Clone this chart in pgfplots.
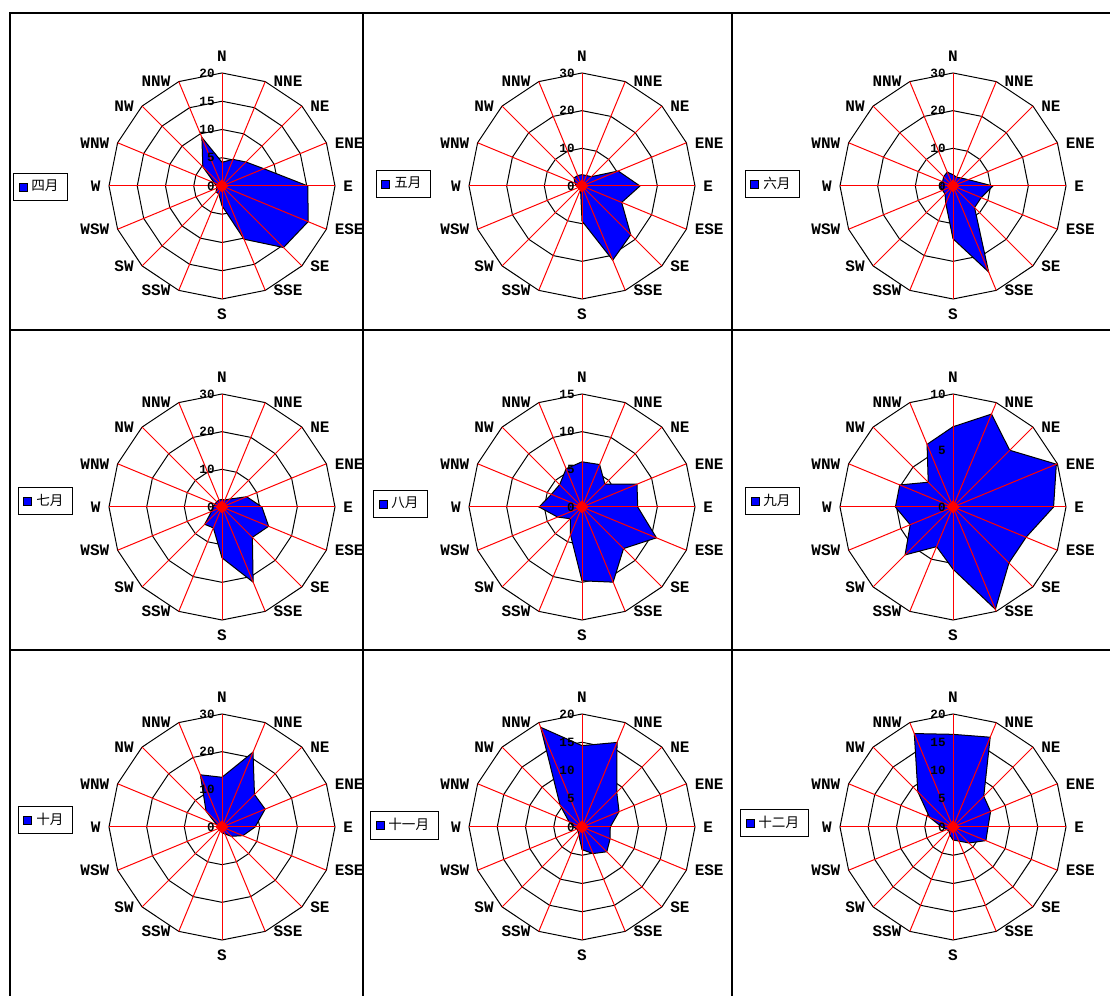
\documentclass[border=0pt]{standalone}
\usepackage{pgfplots}
\pgfplotsset{compat=1.18}
\usepackage{pgfplotstable}
\usepackage{fontspec}
\newfontfamily\dirfont{Liberation Mono}
\newfontfamily\cjk{Noto Sans CJK SC}

\pgfplotstableread{
dir ang   apr  may  jun  jul  aug  sep  oct  nov  dec
N   90    4.2  3.0  3.0  2.0  6.0  7.1  13.2 14.4 16.4
NNE 67.5  5.1  3.0  2.5  2.0  6.1  8.9  21.5 16.2 17.2
NE  45    6.0  3.5  3.0  3.0  4.3  7.1  12.2 8.7  7.7
ENE 22.5  8.0  10.4 4.4  7.1  7.9  9.9  12.4 7.1  7.2
E   0     15.2 15.4 10.6 10.6 7.4  8.9  8.8  5.0  6.2
ESE -22.5 16.5 11.4 8.1  13.4 10.7 7.0  6.0  5.4  6.3
SE  -45   15.4 18.3 8.1  11.4 7.8  7.0  3.5  6.2  4.0
SSE -67.5 10.2 21.3 24.7 21.6 10.8 9.8  2.0  5.1  2.7
S   -90   3.5  9.3  14.0 13.5 9.8  5.5  1.5  4.0  2.3
SSW -112.5 1.5 1.0  5.0  6.0  4.0  3.8  1.0  1.5  1.5
SW  -135  1.5  1.0  3.0  6.5  2.2  6.0  1.0  1.0  1.0
WSW -157.5 1.0 1.0  3.0  3.0  3.5  4.1  1.0  1.0  1.2
W   180   1.0  1.5  3.5  2.5  5.7  5.1  1.0  1.5  2.0
WNW 157.5 1.5  2.0  3.0  2.0  4.4  5.1  1.5  2.5  4.5
NW  135   4.8  3.0  3.5  2.0  4.2  3.1  6.0  5.5  8.8
NNW 112.5 9.3  3.0  4.0  2.0  5.5  6.0  15.0 19.1 17.9
}\winddata

\newcommand{\dirsize}{\dirfont\bfseries\fontsize{8}{9}\selectfont}
\newcommand{\ticksize}{\dirfont\bfseries\fontsize{6.3}{7}\selectfont}

\pgfplotsset{rose/.style={width=208pt, height=208pt, scale only axis, anchor=origin,
  axis lines=none, ticks=none, clip=false, enlargelimits=false,
  legend style={anchor=west, draw=black, line width=0.5pt, fill=white,
    inner xsep=2.5pt, inner ysep=1.2pt, font=\cjk\fontsize{6.8}{7.5}\selectfont,
    legend cell align=left},
  legend image code/.code={\draw[fill=blue, draw=black, line width=0.4pt] (0pt,-2pt) rectangle (4pt,2pt);}}}

% #1 centre, #2 M, #3 ring list
\newcommand{\rosegrid}[3]{%
  \begin{scope}[shift={(#1)}]
  \foreach \v in {#3} {
    \pgfmathsetmacro\rr{56.5*\v/#2}
    \draw[black, line width=0.5pt] (90:\rr pt) \foreach \k in {1,...,15}{ -- ({90-22.5*\k}:\rr pt)} -- cycle;
  }
  \end{scope}}

% #1 centre, #2 M, #3 tick list
\newcommand{\rosetop}[3]{%
  \begin{scope}[shift={(#1)}]
  \foreach \k in {0,...,15} \draw[red, line width=0.5pt] (0,0) -- ({90-22.5*\k}:56.5pt);
  \foreach \v in {#3} {
    \pgfmathsetmacro\rr{56.5*\v/#2}
    \node[anchor=east, font=\ticksize, inner sep=0pt] at (-3.5pt,\rr pt) {\v};
  }
  \node[anchor=south, font=\dirsize, inner sep=0pt] at (0,62pt) {N};
  \node[anchor=north, font=\dirsize, inner sep=0pt] at (0,-61pt) {S};
  \foreach \a/\t in {67.5/NNE,45/NE,22.5/ENE,0/E,-22.5/ESE,-45/SE,-67.5/SSE}
    \node[anchor=west, font=\dirsize, inner sep=0pt, xshift=4pt] at (\a:56.5pt) {\t};
  \foreach \a/\t in {112.5/NNW,135/NW,157.5/WNW,180/W,-157.5/WSW,-135/SW,-112.5/SSW}
    \node[anchor=east, font=\dirsize, inner sep=0pt, xshift=-4pt] at (\a:56.5pt) {\t};
  \end{scope}}

% #1 centre, #2 half range, #3 column, #4 month, #5 legend x, #6 legend y
\newcommand{\rosepanel}[6]{%
  \begin{axis}[rose, at={(#1)}, xmin=-#2, xmax=#2, ymin=-#2, ymax=#2,
    legend style={at={(axis description cs:#5,#6)}}]
  \addplot[fill=blue, draw=black, line width=0.5pt, data cs=polar] table[x=ang, y=#3] {\winddata} -- cycle;
  \addlegendentry{#4}
  \addplot[forget plot, only marks, mark=square*, mark size=2.1pt, mark options={rotate=45, fill=red, draw=red}, data cs=polar] coordinates {(0,0)};
  \end{axis}}

\begin{document}
\begin{tikzpicture}
\coordinate (c1) at (111pt,405pt);
\coordinate (c2) at (291pt,405pt);
\coordinate (c3) at (476.5pt,405pt);
\coordinate (c4) at (111pt,244.5pt);
\coordinate (c5) at (291pt,244.5pt);
\coordinate (c6) at (476.5pt,244.5pt);
\coordinate (c7) at (111pt,84.5pt);
\coordinate (c8) at (291pt,84.5pt);
\coordinate (c9) at (476.5pt,84.5pt);

% frame
\draw[line width=1pt] (5pt,0pt) -- (5pt,491.5pt) -- (555pt,491.5pt);
\draw[line width=0.6pt] (181.5pt,0pt) -- (181.5pt,491.5pt);
\draw[line width=0.6pt] (366pt,0pt) -- (366pt,491.5pt);
\draw[line width=0.6pt] (5pt,333pt) -- (555pt,333pt);
\draw[line width=0.6pt] (5pt,173pt) -- (555pt,173pt);

% grids
\rosegrid{c1}{20}{5,10,15,20}
\rosegrid{c2}{30}{10,20,30}
\rosegrid{c3}{30}{10,20,30}
\rosegrid{c4}{30}{10,20,30}
\rosegrid{c5}{15}{5,10,15}
\rosegrid{c6}{10}{5,10}
\rosegrid{c7}{30}{10,20,30}
\rosegrid{c8}{20}{5,10,15,20}
\rosegrid{c9}{20}{5,10,15,20}

% data
\rosepanel{c1}{36.814}{apr}{四月}{-0.0024}{0.4976}
\rosepanel{c2}{55.221}{may}{五月}{0.0048}{0.5048}
\rosepanel{c3}{55.221}{jun}{六月}{0}{0.5048}
\rosepanel{c4}{55.221}{jul}{七月}{0.0096}{0.5144}
\rosepanel{c5}{27.611}{aug}{八月}{-0.0024}{0.5072}
\rosepanel{c6}{18.407}{sep}{九月}{0}{0.5144}
\rosepanel{c7}{55.221}{oct}{十月}{0.0096}{0.5168}
\rosepanel{c8}{36.814}{nov}{十一月}{-0.0096}{0.5036}
\rosepanel{c9}{36.814}{dec}{十二月}{-0.012}{0.5096}

% spokes and labels
\rosetop{c1}{20}{0,5,10,15,20}
\rosetop{c2}{30}{0,10,20,30}
\rosetop{c3}{30}{0,10,20,30}
\rosetop{c4}{30}{0,10,20,30}
\rosetop{c5}{15}{0,5,10,15}
\rosetop{c6}{10}{0,5,10}
\rosetop{c7}{30}{0,10,20,30}
\rosetop{c8}{20}{0,5,10,15,20}
\rosetop{c9}{20}{0,5,10,15,20}

\pgfresetboundingbox
\useasboundingbox (0pt,0pt) rectangle (555pt,498pt);
\end{tikzpicture}
\end{document}
